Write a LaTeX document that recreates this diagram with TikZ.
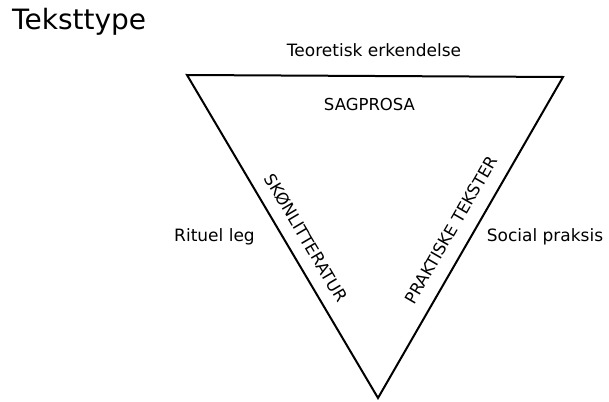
\documentclass[tikz,border=0pt]{standalone}
\usepackage{fontspec}
\setmainfont{DejaVu Sans}
\begin{document}
\begin{tikzpicture}[x=1pt,y=-1pt,
  edge/.style={line width=2pt,line join=miter},
  lbl/.style={font=\fontsize{17}{19}\selectfont,inner sep=0pt,anchor=base},
  genre/.style={font=\fontsize{16.5}{18}\selectfont,inner sep=0pt}]
\useasboundingbox (0,0) rectangle (609,401);
% triangle corners
\coordinate (tl) at (187,75);
\coordinate (tr) at (563,77);
\coordinate (bt) at (378,398);
\draw[edge] (tl) -- (tr) -- (bt) -- cycle;
% title
\node[anchor=base west,inner sep=0pt,font=\fontsize{28}{30}\selectfont] (title) at (12,30) {Teksttype};
% outer labels
\node[lbl] (theory) at (374,57) {Teoretisk erkendelse};
\node[lbl] (ritual) at (214.5,241) {Rituel leg};
\node[lbl] (social) at (545,241) {Social praksis};
% inner labels along the sides
\node[genre] (sag) at (369.5,104) {SAGPROSA};
\node[genre,rotate=-59.4] (skon) at (306,238) {SKØNLITTERATUR};
\node[genre,rotate=60] (prak) at (451,230) {PRAKTISKE TEKSTER};
\end{tikzpicture}
\end{document}
